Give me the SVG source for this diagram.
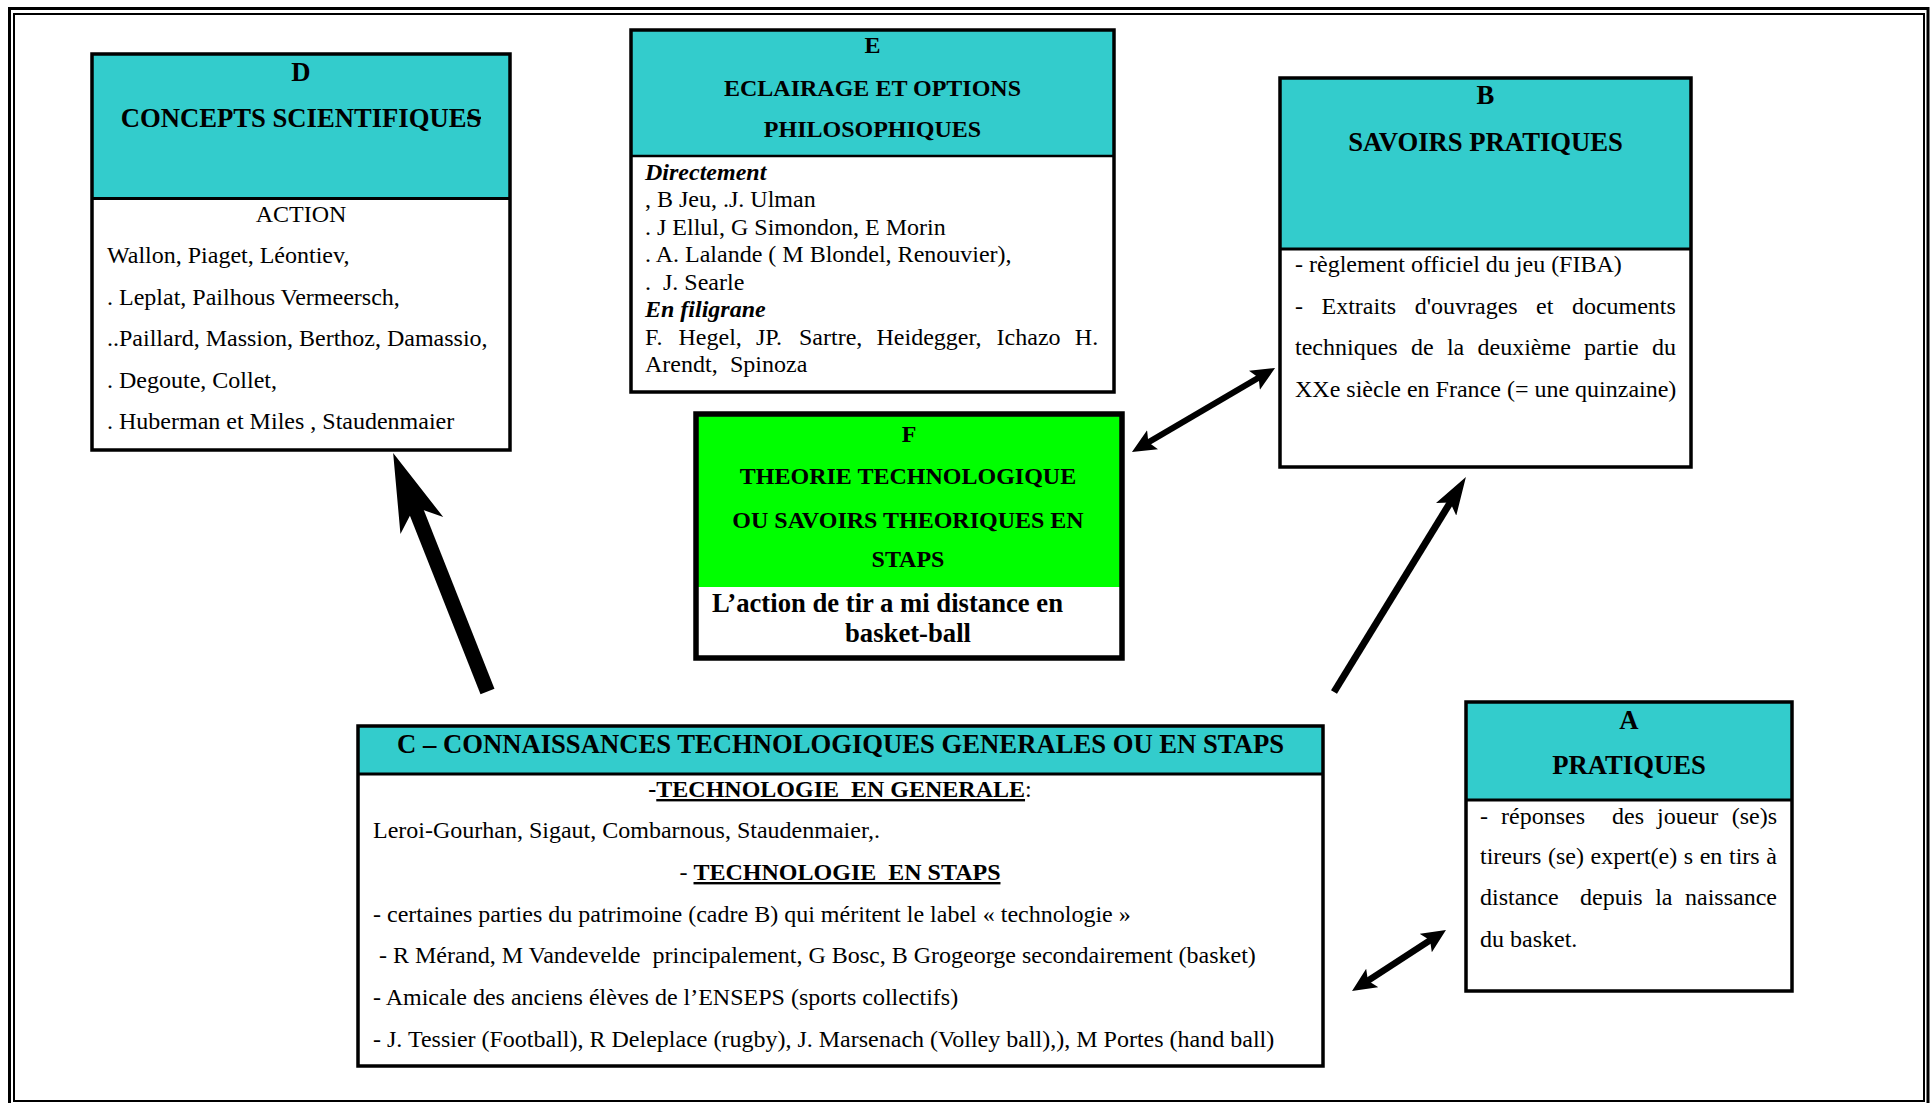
<svg xmlns="http://www.w3.org/2000/svg" width="1930" height="1103" viewBox="0 0 1930 1103">
<style>
text{font-family:"Liberation Serif","Times New Roman",serif;fill:#000}
.h{font-size:26.67px;font-weight:bold}
.hs{font-size:24px;font-weight:bold}
.t{font-size:24px}
.bi{font-size:24px;font-weight:bold;font-style:italic}
.fb{font-size:26.67px;font-weight:bold}
.c{text-anchor:middle}
.u{text-decoration:underline}
.teal{fill:#33CCCC}
.green{fill:#00FF00}
.frame{fill:none;stroke:#000;stroke-width:3.5}
.div{stroke:#000;stroke-width:3}
.conn{stroke:#000;fill:none}
</style>
<defs>
<marker id="hBig" markerUnits="userSpaceOnUse" viewBox="0 0 80 50" markerWidth="80" markerHeight="50" refX="30" refY="25" orient="auto"><path d="M0,2 L78,25 L0,48 L20,25 Z" fill="#000"/></marker>
<marker id="hMed" markerUnits="userSpaceOnUse" viewBox="0 0 40 24" markerWidth="40" markerHeight="24" refX="20" refY="12" orient="auto"><path d="M0,0 L38,12 L0,24 L8,12 Z" fill="#000"/></marker>
<marker id="hSm" markerUnits="userSpaceOnUse" viewBox="0 0 26 24" markerWidth="26" markerHeight="24" refX="12" refY="12" orient="auto-start-reverse"><path d="M0,1 L24,12 L0,23 L5,12 Z" fill="#000"/></marker>
</defs>
<rect x="0" y="0" width="1930" height="1103" fill="#fff"/>
<g id="page-frame">
<rect x="9.5" y="8.5" width="1918.5" height="1100" fill="none" stroke="#000" stroke-width="3"/>
<rect x="14" y="14" width="1910" height="1087" fill="none" stroke="#000" stroke-width="2"/>
</g>

<g id="node-D">
<rect class="teal" x="92" y="54" width="418" height="144.5"/>
<line class="div" x1="92" y1="198.5" x2="510" y2="198.5"/>
<rect class="frame" x="92" y="54" width="418" height="396"/>
<text class="h c" x="301" y="81">D</text>
<text class="h c" x="301" y="127">CONCEPTS SCIENTIFIQUES</text>
<line x1="467" y1="118" x2="481" y2="118" stroke="#000" stroke-width="2.5"/>
<text class="t c" x="301" y="222">ACTION</text>
<text class="t" x="107" y="263">Wallon, Piaget, Léontiev,</text>
<text class="t" x="107" y="305">. Leplat, Pailhous Vermeersch,</text>
<text class="t" x="107" y="346">..Paillard, Massion, Berthoz, Damassio,</text>
<text class="t" x="107" y="388">. Degoute, Collet,</text>
<text class="t" x="107" y="429">. Huberman et Miles , Staudenmaier</text>
</g>

<g id="node-E">
<rect class="teal" x="631" y="30" width="483" height="126"/>
<line x1="631" y1="156" x2="1114" y2="156" stroke="#000" stroke-width="2.5"/>
<rect class="frame" x="631" y="30" width="483" height="362"/>
<text class="hs c" x="872.5" y="53">E</text>
<text class="hs c" x="872.5" y="96">ECLAIRAGE ET OPTIONS</text>
<text class="hs c" x="872.5" y="137">PHILOSOPHIQUES</text>
<text class="bi" x="645" y="179.5">Directement</text>
<text class="t" x="645" y="207">, B Jeu, .J. Ulman</text>
<text class="t" x="645" y="234.5">. J Ellul, G Simondon, E Morin</text>
<text class="t" x="645" y="262">. A. Lalande ( M Blondel, Renouvier),</text>
<text class="t" x="645" y="289.5">.<tspan x="663">J. Searle</tspan></text>
<text class="bi" x="645" y="317">En filigrane</text>
<text class="t" y="344.5"><tspan x="645">F.</tspan><tspan x="678.5">Hegel,</tspan><tspan x="756">JP.</tspan><tspan x="799">Sartre,</tspan><tspan x="876.5">Heidegger,</tspan><tspan x="996.6">Ichazo</tspan><tspan x="1074.8">H.</tspan></text>
<text class="t" y="372"><tspan x="645">Arendt,</tspan><tspan x="730">Spinoza</tspan></text>
</g>

<g id="node-B">
<rect class="teal" x="1280" y="78" width="411" height="171"/>
<line class="div" x1="1280" y1="249" x2="1691" y2="249"/>
<rect class="frame" x="1280" y="78" width="411" height="389"/>
<text class="h c" x="1485.5" y="104">B</text>
<text class="h c" x="1485.5" y="151">SAVOIRS PRATIQUES</text>
<text class="t" x="1295" y="272">- règlement officiel du jeu (FIBA)</text>
<text class="t" y="314"><tspan x="1295">-</tspan><tspan x="1321.5">Extraits</tspan><tspan x="1414.7">d'ouvrages</tspan><tspan x="1536.1">et</tspan><tspan x="1571.9">documents</tspan></text>
<text class="t" y="355"><tspan x="1295">techniques</tspan><tspan x="1410.9">de</tspan><tspan x="1446.9">la</tspan><tspan x="1477.5">deuxième</tspan><tspan x="1584.1">partie</tspan><tspan x="1652">du</tspan></text>
<text class="t" x="1295" y="397">XXe siècle en France (= une quinzaine)</text>
</g>

<g id="node-F">
<rect class="green" x="696" y="414" width="426" height="173"/>
<rect x="696" y="414" width="426" height="244" fill="none" stroke="#000" stroke-width="5.5"/>
<text class="hs c" x="909" y="442">F</text>
<text class="hs c" x="908" y="484">THEORIE TECHNOLOGIQUE</text>
<text class="hs c" x="908" y="528">OU SAVOIRS THEORIQUES EN</text>
<text class="hs c" x="908" y="567">STAPS</text>
<text class="fb" x="712" y="612">L’action de tir a mi distance en</text>
<text class="fb c" x="908" y="642">basket-ball</text>
</g>

<g id="node-C">
<rect class="teal" x="358" y="726" width="965" height="48"/>
<line class="div" x1="358" y1="774" x2="1323" y2="774"/>
<rect class="frame" x="358" y="726" width="965" height="340"/>
<text class="h c" x="840.5" y="753">C – CONNAISSANCES TECHNOLOGIQUES GENERALES OU EN STAPS</text>
<text class="hs c" x="840" y="797" xml:space="preserve">-<tspan class="u">TECHNOLOGIE  EN GENERALE</tspan><tspan font-weight="normal">:</tspan></text>
<text class="t" x="373" y="838">Leroi-Gourhan, Sigaut, Combarnous, Staudenmaier,.</text>
<text class="t c" x="840" y="880" xml:space="preserve">- <tspan class="u" font-weight="bold">TECHNOLOGIE  EN STAPS</tspan></text>
<text class="t" x="373" y="922">- certaines parties du patrimoine (cadre B) qui méritent le label « technologie »</text>
<text class="t" x="379" y="963" xml:space="preserve">- R Mérand, M Vandevelde  principalement, G Bosc, B Grogeorge secondairement (basket)</text>
<text class="t" x="373" y="1005">- Amicale des anciens élèves de l’ENSEPS (sports collectifs)</text>
<text class="t" x="373" y="1047">- J. Tessier (Football), R Deleplace (rugby), J. Marsenach (Volley ball),), M Portes (hand ball)</text>
</g>

<g id="node-A">
<rect class="teal" x="1466" y="702" width="326" height="98"/>
<line x1="1466" y1="800" x2="1792" y2="800" stroke="#000" stroke-width="2.8"/>
<rect class="frame" x="1466" y="702" width="326" height="289"/>
<text class="h c" x="1629" y="729">A</text>
<text class="h c" x="1629" y="774">PRATIQUES</text>
<text class="t" y="824"><tspan x="1480">-</tspan><tspan x="1501">réponses</tspan><tspan x="1612">des</tspan><tspan x="1657">joueur</tspan><tspan x="1731.7">(se)s</tspan></text>
<text class="t" y="864"><tspan x="1480">tireurs</tspan><tspan x="1548">(se)</tspan><tspan x="1590.6">expert(e)</tspan><tspan x="1683.8">s</tspan><tspan x="1699.7">en</tspan><tspan x="1729">tirs</tspan><tspan x="1766.3">à</tspan></text>
<text class="t" y="905"><tspan x="1480">distance</tspan><tspan x="1580">depuis</tspan><tspan x="1655.2">la</tspan><tspan x="1685">naissance</tspan></text>
<text class="t" x="1480" y="947">du basket.</text>
</g>

<g id="connectors">
<line class="conn" x1="487.5" y1="691.5" x2="410.8" y2="497.6" stroke-width="15" marker-end="url(#hBig)"/>
<line class="conn" x1="1334" y1="692" x2="1456.5" y2="492.3" stroke-width="7" marker-end="url(#hMed)"/>
<line class="conn" x1="1142.3" y1="445.9" x2="1264.7" y2="374.1" stroke-width="6" marker-start="url(#hSm)" marker-end="url(#hSm)"/>
<line class="conn" x1="1362.1" y1="984.5" x2="1435.9" y2="936.5" stroke-width="6.5" marker-start="url(#hSm)" marker-end="url(#hSm)"/>
</g>
</svg>
